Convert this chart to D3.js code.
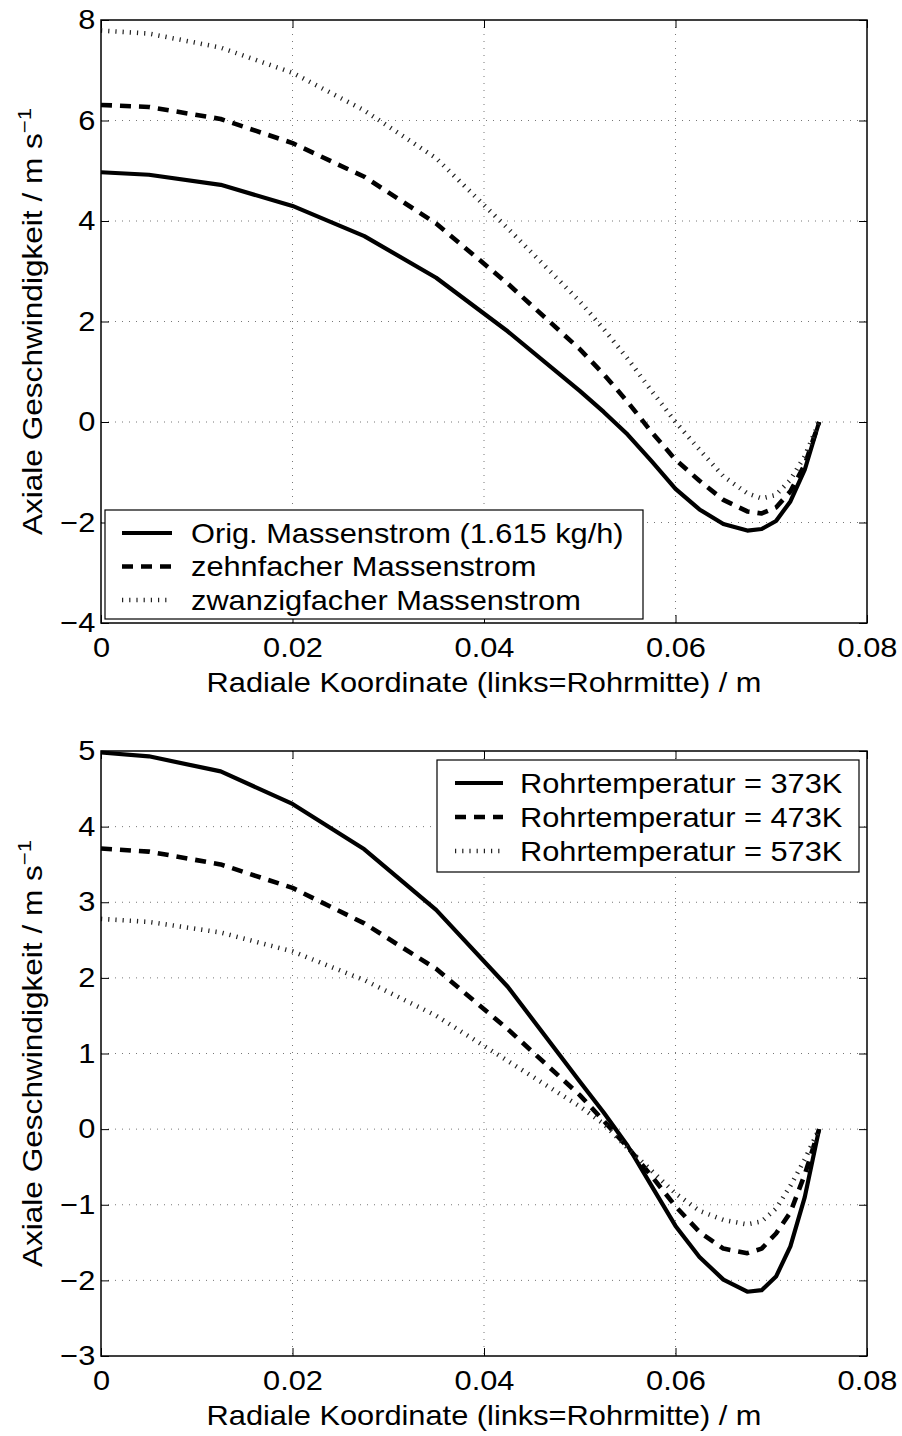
<!DOCTYPE html>
<html>
<head>
<meta charset="utf-8">
<script src="https://cdn.jsdelivr.net/npm/d3@7/dist/d3.min.js"></script>
<style>
  body { margin: 0; background: #fff; }
  svg { display: block; }
  text { font-family: "Liberation Sans", Arial, Helvetica, sans-serif; fill: #000; }
</style>
</head>
<body>
<svg id="chart" width="902" height="1436"></svg>
<script>
// ---------- data ----------
const radius = [0, 0.005, 0.0125, 0.02, 0.0275, 0.035, 0.0425, 0.05, 0.0525, 0.055, 0.0575, 0.06, 0.0625, 0.065, 0.0675, 0.069, 0.0705, 0.072, 0.0735, 0.075];

// top chart: mass flow variation
const massOrig    = [4.97, 4.92, 4.72, 4.30, 3.70, 2.87, 1.80, 0.62, 0.20, -0.25, -0.78, -1.33, -1.74, -2.03, -2.16, -2.13, -1.97, -1.58, -0.95, 0];
const massTen     = [6.31, 6.27, 6.03, 5.55, 4.88, 3.95, 2.75, 1.45, 0.95, 0.40, -0.20, -0.75, -1.17, -1.55, -1.78, -1.82, -1.70, -1.38, -0.85, 0];
const massTwenty  = [7.79, 7.73, 7.45, 6.95, 6.20, 5.25, 3.85, 2.40, 1.85, 1.26, 0.62, 0.00, -0.55, -1.08, -1.42, -1.52, -1.45, -1.15, -0.68, 0];
const topLabels   = ["Orig. Massenstrom (1.615 kg/h)", "zehnfacher Massenstrom", "zwanzigfacher Massenstrom"];

// bottom chart: wall temperature variation
const temp373 = [4.98, 4.93, 4.73, 4.30, 3.70, 2.90, 1.88, 0.63, 0.22, -0.22, -0.75, -1.28, -1.69, -1.99, -2.15, -2.13, -1.95, -1.55, -0.90, 0];
const temp473 = [3.71, 3.67, 3.50, 3.19, 2.72, 2.12, 1.32, 0.45, 0.11, -0.24, -0.62, -1.02, -1.36, -1.58, -1.64, -1.58, -1.38, -1.10, -0.60, 0];
const temp573 = [2.78, 2.74, 2.60, 2.35, 1.97, 1.50, 0.90, 0.30, 0.07, -0.25, -0.55, -0.85, -1.08, -1.20, -1.26, -1.22, -1.05, -0.75, -0.40, 0];
const bottomLabels = ["Rohrtemperatur = 373K", "Rohrtemperatur = 473K", "Rohrtemperatur = 573K"];

const xTicks = [0, 0.02, 0.04, 0.06, 0.08];
const yTicksTop = [-4, -2, 0, 2, 4, 6, 8];
const yTicksBottom = [-3, -2, -1, 0, 1, 2, 3, 4, 5];

const xTitle = "Radiale Koordinate (links=Rohrmitte) / m";
const yTitleMain = "Axiale Geschwindigkeit / m s";
const yTitleSup = "−1";

// ---------- styles ----------
const FS = 27;          // font size
const SX = 1.14;        // horizontal glyph stretch (reference font is wider)
const SXY = 1.17;       // stretch for the rotated y title
const lineStyles = [
  { width: 4.2, dash: null, color: "#000" },
  { width: 4.6, dash: "11,8", color: "#000" },
  { width: 4.6, dash: "1.2,6", color: "#222" }
];

const svg = d3.select("#chart");
const fmtX = d => d === 0 ? "0" : d.toFixed(2);
const fmtY = d => d < 0 ? "−" + Math.abs(d) : String(d);

function stretchedText(parent, x, y, anchor, str) {
  return parent.append("text")
    .attr("transform", `translate(${x},${y}) scale(${SX},1)`)
    .attr("text-anchor", anchor)
    .style("font-size", FS + "px")
    .text(str);
}

function drawPanel(cfg) {
  const g = svg.append("g").attr("transform", `translate(${cfg.left},${cfg.top})`);
  const w = cfg.width, h = cfg.height;
  const x = d3.scaleLinear().domain([0, 0.08]).range([0, w]);
  const y = d3.scaleLinear().domain(cfg.yDomain).range([h, 0]);

  // grid
  const grid = g.append("g");
  xTicks.slice(1, -1).forEach(t => {
    grid.append("line").attr("x1", x(t)).attr("x2", x(t)).attr("y1", 0).attr("y2", h);
  });
  cfg.yTicks.slice(1, -1).forEach(t => {
    grid.append("line").attr("x1", 0).attr("x2", w).attr("y1", y(t)).attr("y2", y(t));
  });
  grid.selectAll("line").attr("stroke", "#777").attr("stroke-width", 1).attr("stroke-dasharray", "1,6");

  // lines
  const line = d3.line().x((d, i) => x(radius[i])).y(d => y(d));
  cfg.series.forEach((s, k) => {
    const st = lineStyles[k];
    g.append("path").datum(s).attr("d", line)
      .attr("fill", "none").attr("stroke", st.color).attr("stroke-width", st.width)
      .attr("stroke-linejoin", "round")
      .attr("stroke-dasharray", st.dash);
  });

  // axes
  const ax = (sel) => {
    sel.select(".domain").remove();
    sel.selectAll("line").attr("stroke", "#000").attr("stroke-width", 1);
    sel.selectAll("text").style("font-size", FS + "px")
      .style("font-family", '"Liberation Sans", Arial, sans-serif')
      .attr("transform", `scale(${SX},1)`);
  };
  g.append("g").attr("transform", `translate(0,${h})`)
    .call(d3.axisBottom(x).tickValues(xTicks).tickFormat(fmtX).tickSizeInner(-8).tickSizeOuter(0).tickPadding(14.8)).call(ax);
  g.append("g")
    .call(d3.axisTop(x).tickValues(xTicks).tickFormat("").tickSizeInner(-8).tickSizeOuter(0)).call(ax);
  g.append("g")
    .call(d3.axisLeft(y).tickValues(cfg.yTicks).tickFormat(fmtY).tickSizeInner(-8).tickSizeOuter(0).tickPadding(5)).call(ax);
  g.append("g").attr("transform", `translate(${w},0)`)
    .call(d3.axisRight(y).tickValues(cfg.yTicks).tickFormat("").tickSizeInner(-8).tickSizeOuter(0)).call(ax);

  g.append("rect").attr("x", 0).attr("y", 0).attr("width", w).attr("height", h)
    .attr("fill", "none").attr("stroke", "#000").attr("stroke-width", 1.5);

  // axis titles
  stretchedText(g, w / 2, h + 69, "middle", xTitle);
  const yt = g.append("text")
    .attr("transform", `translate(${-59},${h / 2}) rotate(-90) scale(${SXY},1)`)
    .attr("text-anchor", "middle").style("font-size", FS + "px");
  yt.append("tspan").text(yTitleMain);
  yt.append("tspan").attr("dy", -11).style("font-size", "19px").text(yTitleSup);

  // legend
  const L = cfg.legend;
  const lg = g.append("g").attr("transform", `translate(${L.x},${L.y})`);
  lg.append("rect").attr("width", L.w).attr("height", L.h).attr("fill", "#fff")
    .attr("stroke", "#000").attr("stroke-width", 1.2);
  cfg.labels.forEach((lab, k) => {
    const st = lineStyles[k];
    const cy = L.row0 + k * L.rowGap;
    lg.append("line").attr("x1", L.sx0).attr("x2", L.sx1).attr("y1", cy).attr("y2", cy)
      .attr("stroke", st.color).attr("stroke-width", st.width).attr("stroke-dasharray", st.dash);
    stretchedText(lg, L.tx, cy, "start", lab).attr("dy", "0.36em");
  });
}

drawPanel({
  left: 101, top: 20, width: 766, height: 603,
  yDomain: [-4, 8], yTicks: yTicksTop,
  series: [massOrig, massTen, massTwenty], labels: topLabels,
  legend: { x: 4, y: 490, w: 538, h: 109, row0: 23, rowGap: 33.5, sx0: 17, sx1: 67, tx: 86 }
});

drawPanel({
  left: 101, top: 751, width: 766, height: 605,
  yDomain: [-3, 5], yTicks: yTicksBottom,
  series: [temp373, temp473, temp573], labels: bottomLabels,
  legend: { x: 336, y: 9, w: 422, h: 112, row0: 23, rowGap: 34, sx0: 18, sx1: 66, tx: 83 }
});
</script>
</body>
</html>
